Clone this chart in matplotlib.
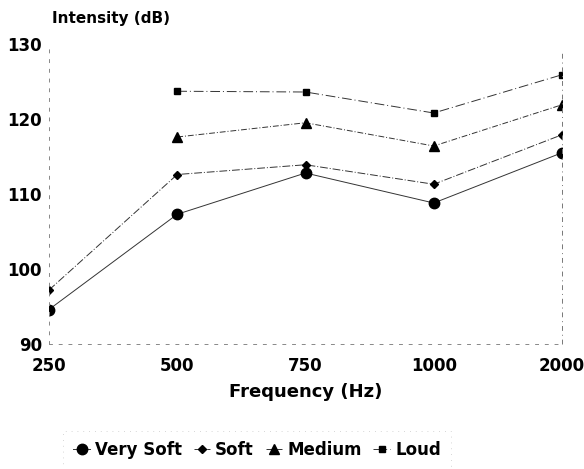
import matplotlib
matplotlib.use("Agg")
import matplotlib.pyplot as plt

plt.rcParams['font.family'] = ['DejaVu Sans']
plt.rcParams['font.weight'] = 'bold'

freq_labels = ["250", "500", "750", "1000", "2000"]
very_soft = [94.6, 107.3, 112.8, 108.8, 115.5]
soft = [97.2, 112.6, 113.9, 111.3, 117.9]
medium = [None, 117.6, 119.5, 116.4, 121.9]
loud = [None, 123.7, 123.6, 120.8, 125.9]
series_names = ["Very Soft", "Soft", "Medium", "Loud"]

fig = plt.figure(figsize=(5.84, 4.69), dpi=100)
ax = fig.add_axes([49/584, 1-344/469, (562-49)/584, 300/469])

def xy(vals):
    xs = [i for i, v in enumerate(vals) if v is not None]
    ys = [v for v in vals if v is not None]
    return xs, ys

styles = [
    dict(marker='o', ms=7.5, ls='-'),
    dict(marker='D', ms=4.5, ls=(0, (8, 2, 1, 2))),
    dict(marker='^', ms=6.5, ls=(0, (6, 2, 1, 2))),
    dict(marker='s', ms=4.5, ls=(0, (10, 3, 1, 3))),
]
for vals, name, st in zip([very_soft, soft, medium, loud], series_names, styles):
    xs, ys = xy(vals)
    ax.plot(xs, ys, color='#333333', lw=0.7, ls=st['ls'], marker=st['marker'],
            ms=st['ms'], mfc='black', mec='black', label=name)

ax.set_xlim(0, 4)
ax.set_ylim(90, 130)
ax.set_xticks(range(5))
ax.set_xticklabels(freq_labels)
ax.set_yticks([90, 100, 110, 120, 130])
ax.tick_params(axis='both', length=0, labelsize=12)
ax.tick_params(axis='x', pad=9)
ax.tick_params(axis='y', pad=5)
for lab in ax.get_xticklabels() + ax.get_yticklabels():
    lab.set_fontweight('bold')

for s in ['top', 'right']:
    ax.spines[s].set_visible(False)
for s in ['left', 'bottom']:
    ax.spines[s].set_linestyle((0, (3, 7)))
    ax.spines[s].set_color('#888888')
    ax.spines[s].set_linewidth(0.7)
ax.plot([4, 4], [90, 129], color='#777777', lw=0.7, ls=(0, (5, 4, 1, 4)), clip_on=False)

ax.set_xlabel("Frequency (Hz)", fontsize=13, fontweight='bold', labelpad=6)
fig.text(52/584, 1-18/469, "Intensity (dB)", fontsize=11, fontweight='bold', va='center', ha='left')

leg = fig.legend(loc='center', bbox_to_anchor=(257/584, 1-450/469), ncol=4,
                 fontsize=12, handlelength=1.0, handletextpad=0.3, columnspacing=0.7,
                 frameon=True, fancybox=False, borderpad=0.6)
leg.get_frame().set_edgecolor('#bbbbbb')
leg.get_frame().set_linestyle((0, (1, 6)))
leg.get_frame().set_linewidth(0.6)
for t in leg.get_texts():
    t.set_fontweight('bold')

fig.savefig("out.png", dpi=100)
